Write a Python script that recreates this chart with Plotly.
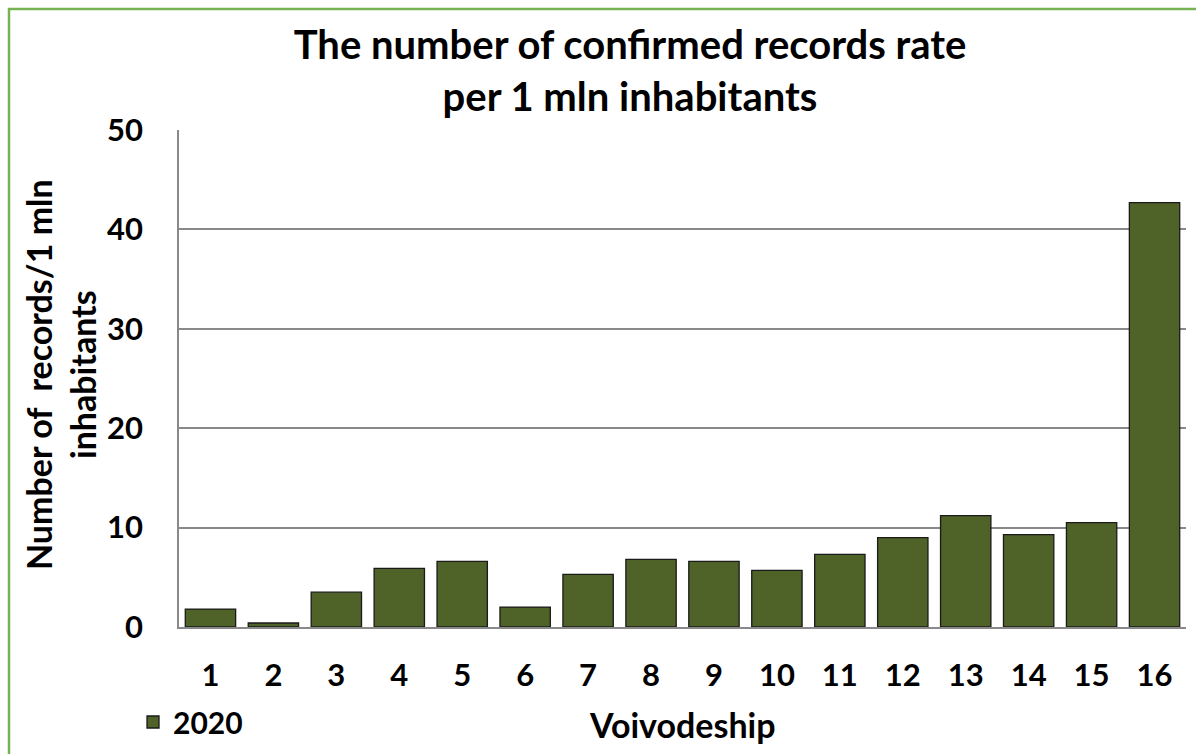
import plotly.graph_objects as go

categories = [str(i) for i in range(1, 17)]
values_2020 = [1.8, 0.4, 3.5, 5.9, 6.6, 2.0, 5.3, 6.8, 6.6, 5.7, 7.3, 9.0, 11.2, 9.3, 10.5, 42.7]
series_name = "2020"
y_ticks = [0, 10, 20, 30, 40, 50]

FONT = "Lato"
BAR = "#4F6228"
GRID = "#898989"

fig = go.Figure()
fig.add_trace(go.Bar(
    x=categories, y=values_2020, name=f"<b>{series_name}</b>",
    marker=dict(color=BAR, line=dict(color="#1a1a1a", width=1.3)),
    showlegend=True,
))

W, H = 1196, 754
L, R, T, B = 179, 10, 130, 127
pw, ph = W - L - R, H - T - B

def px(xp):
    return (xp - L) / pw

def py(yp):
    return (H - B - yp) / ph

fig.update_layout(
    width=W, height=H,
    margin=dict(l=L, r=R, t=T, b=B, autoexpand=False),
    paper_bgcolor="white", plot_bgcolor="white",
    font=dict(family=FONT, color="black"),
    bargap=0.2,
    title=dict(
        text="<b>The number of confirmed records rate<br>per 1 mln inhabitants</b>",
        x=630 / W, xanchor="center", xref="container",
        y=1 - 59 / H, yanchor="middle", yref="container",
        font=dict(size=40, family=FONT, color="black"),
    ),
    xaxis=dict(
        type="category", showgrid=False, showline=True, linecolor=GRID, linewidth=1.5,
        ticks="", tickfont=dict(size=31, family=FONT, color="black"),
        tickvals=categories, ticktext=[f"<b>{c}</b>" for c in categories],
        ticklabelstandoff=20, automargin=False,
    ),
    yaxis=dict(
        range=[0, 50], tickvals=y_ticks, ticktext=[f"<b>{v}</b>" for v in y_ticks],
        showgrid=True, gridcolor=GRID, gridwidth=1.5,
        showline=True, linecolor=GRID, linewidth=1.5, zeroline=False,
        ticks="", tickfont=dict(size=31, family=FONT, color="black"),
        ticklabelstandoff=28, automargin=False,
    ),
    legend=dict(
        x=px(133), y=py(722), xanchor="left", yanchor="middle",
        font=dict(size=30, family=FONT, color="black"),
        bgcolor="rgba(0,0,0,0)",
    ),
    annotations=[
        dict(text="<b>Number of  records/1 mln<br>inhabitants</b>", textangle=-90,
             xref="paper", yref="paper", x=px(60), y=py(375), xanchor="center", yanchor="middle",
             showarrow=False, font=dict(size=34, family=FONT, color="black")),
        dict(text="<b>Voivodeship</b>", xref="paper", yref="paper",
             x=px(682), y=py(724), xanchor="center", yanchor="middle",
             showarrow=False, font=dict(size=34, family=FONT, color="black")),
    ],
    shapes=[
        dict(type="rect", xref="paper", yref="paper",
             x0=px(9), y0=py(780), x1=px(1230), y1=py(9),
             line=dict(color="#77B255", width=2.5), fillcolor="rgba(0,0,0,0)", layer="below"),
    ],
)

fig.write_html("out.html", config={"displayModeBar": False},
               post_script="document.body.style.margin='0';")
